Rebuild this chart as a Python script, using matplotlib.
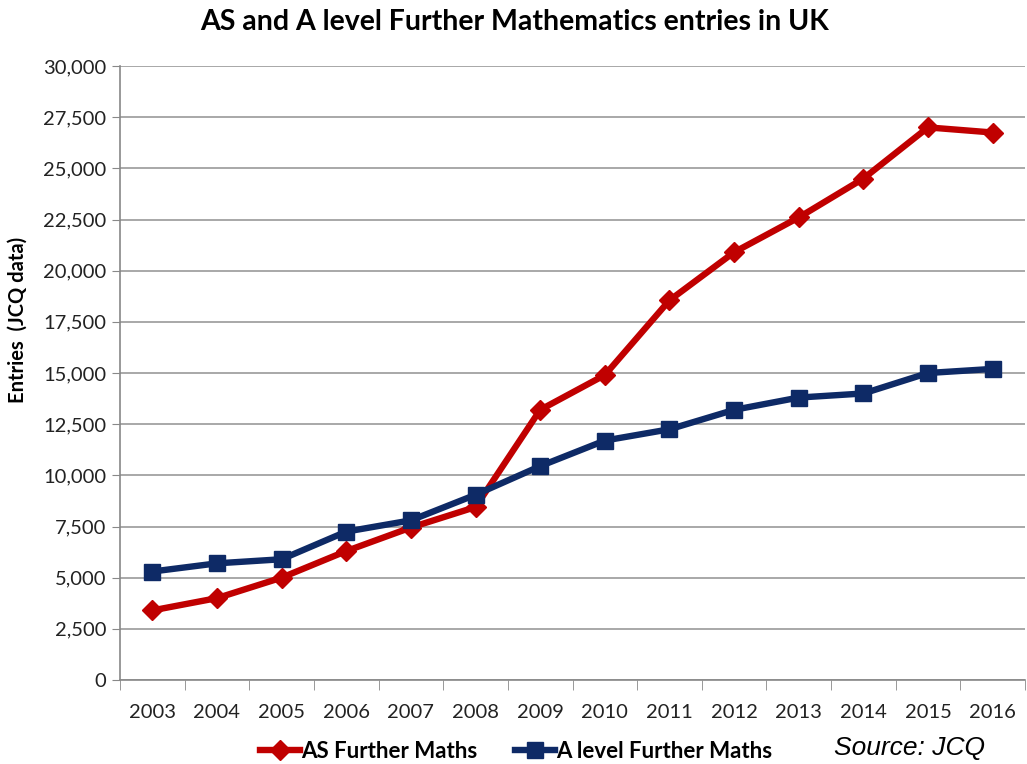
import matplotlib
matplotlib.use("Agg")
import matplotlib.pyplot as plt
from matplotlib.lines import Line2D
import numpy as np

years = ["2003", "2004", "2005", "2006", "2007", "2008", "2009", "2010",
         "2011", "2012", "2013", "2014", "2015", "2016"]
as_further = [3400, 4000, 5000, 6300, 7450, 8450, 13200, 14900,
              18550, 20900, 22600, 24500, 27000, 26750]
a_level_further = [5300, 5700, 5900, 7250, 7800, 9050, 10450, 11700,
                   12250, 13200, 13800, 14000, 15000, 15200]
y_ticks = list(range(0, 30001, 2500))

RED = "#C00000"
NAVY = "#0E2A66"
FONT = ["Lato", "DejaVu Sans"]

fig = plt.figure(figsize=(10.27, 7.64), dpi=100)
ax = fig.add_axes([120/1027, 1-680/764, 905/1027, 614/764])

x = np.arange(len(years))
ax.plot(x, as_further, color=RED, lw=4.6, marker="D", ms=10, mfc=RED, mec=RED,
        solid_joinstyle="round", zorder=3)
ax.plot(x, a_level_further, color=NAVY, lw=4.6, marker="s", ms=11, mfc=NAVY, mec=NAVY,
        solid_joinstyle="round", zorder=3)

ax.set_xlim(-0.5, len(years) - 0.5)
ax.set_ylim(0, 30000)
ax.set_yticks(y_ticks)
ax.set_yticklabels([f"{v:,}" for v in y_ticks], fontsize=14.5, family=FONT, color="#222222")
ax.set_xticks(x)
ax.set_xticklabels(years, fontsize=14.5, family=FONT, color="#222222")
ax.tick_params(axis="x", length=0, pad=17)
ax.set_xticks(np.arange(-0.5, len(years), 1.0), minor=True)
ax.tick_params(axis="x", which="minor", length=7, color="#888888", direction="out")
ax.tick_params(axis="y", length=6, color="#888888", direction="out", pad=4)

ax.grid(axis="y", color="#999999", lw=1.2)
ax.set_axisbelow(True)
for s in ["top", "right"]:
    ax.spines[s].set_visible(False)
for s in ["left", "bottom"]:
    ax.spines[s].set_color("#888888")
    ax.spines[s].set_linewidth(1.2)

fig.text(18/1027, 1-320/764, "Entries  (JCQ data)", rotation=90, ha="center", va="center",
         fontsize=14.5, fontweight="bold", family=FONT)
fig.text(515/1027, 1-22/764, "AS and A level Further Mathematics entries in UK",
         ha="center", va="center", fontsize=20.5, fontweight="bold", family=FONT)

handles = [
    Line2D([], [], color=RED, lw=4.6, marker="D", ms=10),
    Line2D([], [], color=NAVY, lw=4.6, marker="s", ms=11),
]
leg = fig.legend(handles, ["AS Further Maths", "A level Further Maths"], loc="center",
                 bbox_to_anchor=(516/1027, 1-751/764), ncol=2, frameon=False,
                 handlelength=1.8, handletextpad=0.05, columnspacing=1.7,
                 prop={"family": FONT, "weight": "bold", "size": 16})

fig.text(910/1027, 1-748/764, "Source: JCQ", ha="center", va="center", fontsize=19,
         style="italic", family=["Liberation Sans", "DejaVu Sans"])

fig.savefig("out.png", dpi=100, facecolor="white")
